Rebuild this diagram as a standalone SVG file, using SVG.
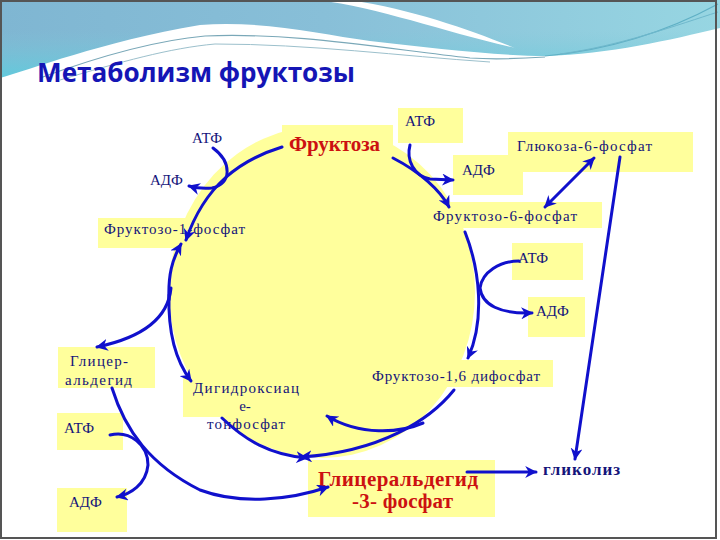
<svg xmlns="http://www.w3.org/2000/svg" width="720" height="540" viewBox="0 0 720 540">
<defs>
<linearGradient id="sky" x1="0" y1="0" x2="1" y2="0">
<stop offset="0" stop-color="#7fb6d2"/>
<stop offset="0.45" stop-color="#88bfd8"/>
<stop offset="1" stop-color="#97d6e2"/>
</linearGradient>
<linearGradient id="cy" x1="0" y1="0" x2="0" y2="1">
<stop offset="0" stop-color="#7fc9d9" stop-opacity="0"/>
<stop offset="1" stop-color="#4fd0e0"/>
</linearGradient>
<marker id="ah" markerUnits="userSpaceOnUse" markerWidth="12" markerHeight="12" viewBox="0 0 10 10" refX="9" refY="5" orient="auto-start-reverse">
<path d="M0,0 L10,5 L0,10 L3,5 Z" fill="#1010cc"/>
</marker>
</defs>
<style>
.box{fill:#ffff9c}
.ln{fill:none;stroke:#1010cc;stroke-width:3;stroke-linecap:round}
.t{font-family:"Liberation Serif","Times New Roman",serif;font-size:15px;fill:#14147a}
.r{font-family:"Liberation Serif","Times New Roman",serif;font-size:21px;font-weight:bold;fill:#cc1111}
</style>
<rect x="0" y="0" width="720" height="540" fill="#ffffff"/>
<g id="header">
<rect x="0" y="0" width="720" height="95" fill="url(#sky)"/>
<rect x="0" y="30" width="720" height="60" fill="url(#cy)"/>
<path d="M0 95 L0 78 C30 70 100 42 200 25 C260 20 320 34 370 41 C430 48 500 56 545 56 C610 54 670 40 720 28 L720 95 Z" fill="#ffffff"/>
<path d="M318 0 C380 8 445 32 515 48 C470 30 415 10 350 0 Z" fill="#ffffff"/>
<path d="M40 78 C100 56 160 40 205 36 C290 32 380 48 470 58 C500 60 530 58 545 57" fill="none" stroke="#7aa8b8" stroke-width="1.2"/>
<path d="M60 80 C120 62 170 48 215 44 C310 44 400 56 490 62" fill="none" stroke="#9cc0cc" stroke-width="1"/>
<path d="M545 56 C610 50 670 30 718 4" fill="none" stroke="#5fb0c5" stroke-width="1.2"/>
<path d="M560 54 C620 46 680 24 718 12" fill="none" stroke="#6fb8cc" stroke-width="1"/>
</g>
<rect x="1" y="1" width="715" height="537" fill="none" stroke="#555555" stroke-width="2"/>
<text x="37" y="82" font-family="'Open Sans','Noto Sans',sans-serif" font-size="26" font-weight="bold" fill="#1515b5" textLength="318" lengthAdjust="spacingAndGlyphs">Метаболизм фруктозы</text>
<ellipse id="cycle" cx="322" cy="292" rx="153" ry="166" fill="#ffff9c"/>
<g id="n-atp1"><text class="t" x="192" y="143">АТФ</text></g>
<g id="n-adp1"><text class="t" x="150" y="185">АДФ</text></g>
<g id="n-f1p"><rect class="box" x="98" y="218" width="148" height="30"/><text class="t" x="104" y="234" textLength="141">Фруктозо-1-фосфат</text></g>
<g id="n-fru"><rect class="box" x="282" y="125" width="111" height="38"/><text class="r" x="289" y="151" textLength="91">Фруктоза</text></g>
<g id="n-atp2"><rect class="box" x="398" y="108" width="65" height="35"/><text class="t" x="405" y="126">АТФ</text></g>
<g id="n-g6p"><rect class="box" x="508" y="132" width="185" height="40"/><text class="t" x="517" y="151" textLength="135">Глюкоза-6-фосфат</text></g>
<g id="n-adp2"><rect class="box" x="453" y="155" width="70" height="40"/><text class="t" x="462" y="175">АДФ</text></g>
<g id="n-f6p"><rect class="box" x="432" y="202" width="170" height="26"/><text class="t" x="433" y="221" textLength="144">Фруктозо-6-фосфат</text></g>
<g id="n-atp3"><rect class="box" x="512" y="243" width="71" height="37"/><text class="t" x="518" y="263">АТФ</text></g>
<g id="n-adp3"><rect class="box" x="528" y="297" width="57" height="40"/><text class="t" x="536" y="316">АДФ</text></g>
<g id="n-fbp"><rect class="box" x="368" y="360" width="185" height="27"/><text class="t" x="372" y="381" textLength="168">Фруктозо-1,6 дифосфат</text></g>
<g id="n-g3p"><rect class="box" x="308" y="460" width="187" height="57"/><text class="r" x="318" y="486" textLength="160">Глицеральдегид</text><text class="r" x="352" y="508" textLength="101">-3- фосфат</text></g>
<g id="n-glyc"><text x="543" y="475" font-family="'Liberation Serif','Times New Roman',serif" font-size="17" font-weight="bold" fill="#14147a" textLength="77">гликолиз</text></g>
<g id="n-gald"><rect class="box" x="58" y="347" width="97" height="41"/><text class="t" x="70" y="366" textLength="58">Глицер-</text><text class="t" x="65" y="385" textLength="67">альдегид</text></g>
<g id="n-atp4"><rect class="box" x="57" y="413" width="66" height="37"/><text class="t" x="64" y="433">АТФ</text></g>
<g id="n-adp4"><rect class="box" x="57" y="488" width="70" height="44"/><text class="t" x="69" y="507">АДФ</text></g>
<g id="n-dhap"><rect class="box" x="183" y="378" width="117" height="39"/><text class="t" x="193" y="393" textLength="106">Дигидроксиац</text><text class="t" x="245" y="411" text-anchor="middle">е-</text><text class="t" x="207" y="429" textLength="78">тонфосфат</text></g>
<g id="connectors">
<path class="ln" marker-end="url(#ah)" d="M282 147 C240 160 205 185 186 240"/>
<path class="ln" marker-end="url(#ah)" d="M213 148 C232 162 232 184 212 188 C203 189 196 188 189 186"/>
<path class="ln" marker-end="url(#ah)" d="M169 300 C168 275 172 260 181 244"/>
<path class="ln" marker-end="url(#ah)" d="M171 288 C168 320 140 338 97 347"/>
<path class="ln" marker-end="url(#ah)" d="M169 295 C168 330 175 360 191 381"/>
<path class="ln" marker-end="url(#ah)" d="M393 158 C420 172 440 190 449 207"/>
<path class="ln" marker-end="url(#ah)" d="M410 145 C406 160 414 176 430 179 L453 180"/>
<path class="ln" marker-start="url(#ah)" marker-end="url(#ah)" d="M594 158 L545 207"/>
<path class="ln" marker-end="url(#ah)" d="M620 157 L575 459"/>
<path class="ln" marker-end="url(#ah)" d="M465 232 C480 270 485 320 468 358"/>
<path class="ln" marker-end="url(#ah)" d="M519 261 C500 261 482 272 480 288 C482 305 500 314 532 313"/>
<path class="ln" marker-end="url(#ah)" d="M423 423 C400 433 360 436 327 416"/>
<path class="ln" marker-end="url(#ah)" d="M454 390 C430 420 380 452 301 457"/>
<path class="ln" marker-end="url(#ah)" d="M222 418 C245 440 270 455 307 458"/>
<path class="ln" marker-end="url(#ah)" d="M112 388 C125 430 150 465 200 490 C240 505 290 500 328 487"/>
<path class="ln" marker-end="url(#ah)" d="M110 435 C130 430 148 445 148 465 C146 485 130 494 117 497"/>
<path class="ln" marker-end="url(#ah)" d="M467 472 L536 472"/>
</g>
</svg>
